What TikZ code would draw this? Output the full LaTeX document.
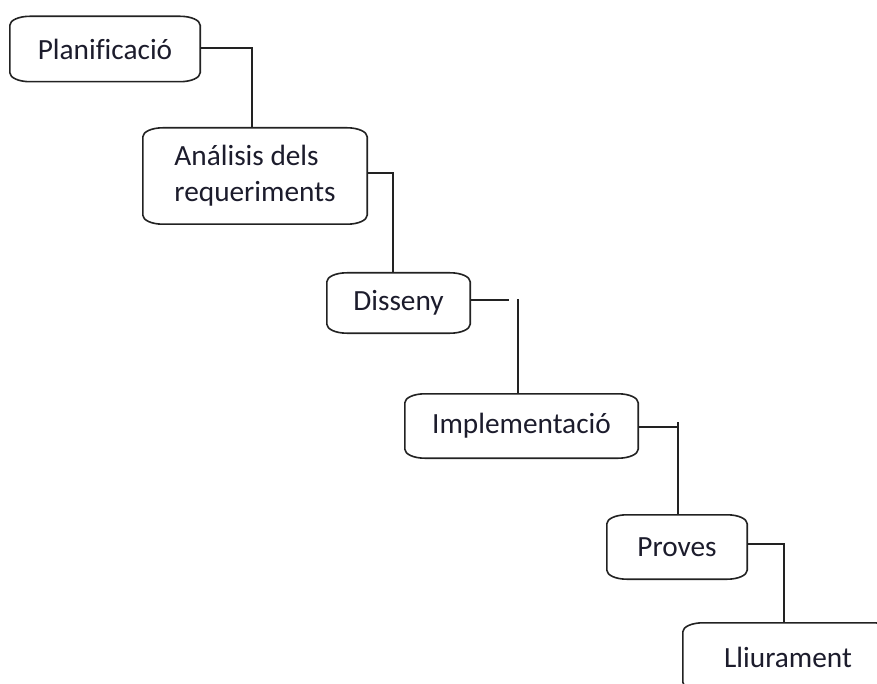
\documentclass[tikz,border=0pt]{standalone}
\usepackage{fontspec}
\setmainfont[Ligatures=NoCommon]{Carlito}
\definecolor{txt}{RGB}{28,28,44}
\definecolor{ln}{RGB}{34,34,34}
\newcommand\ovalbox[1]{%
  \draw[boxline] ([xshift=20pt]#1.north west) -- ([xshift=-20pt]#1.north east)
    arc[start angle=90,end angle=0,x radius=20pt,y radius=9pt]
    -- ([yshift=9pt]#1.south east)
    arc[start angle=0,end angle=-90,x radius=20pt,y radius=9pt]
    -- ([xshift=20pt]#1.south west)
    arc[start angle=270,end angle=180,x radius=20pt,y radius=9pt]
    -- ([yshift=-9pt]#1.north west)
    arc[start angle=180,end angle=90,x radius=20pt,y radius=9pt] -- cycle;}
\begin{document}
\begin{tikzpicture}[x=1pt,y=-1pt,
  stage/.style={inner sep=0pt,text=txt,font=\fontsize{29.3}{35.7}\selectfont},
  boxline/.style={draw=ln,line width=1.6pt,line join=miter},
  conn/.style={draw=ln,line width=1.6pt}]
\fill[white] (0,0) rectangle (877,684);
\useasboundingbox (0,0) rectangle (877,684);
\node[stage,minimum width=190pt,minimum height=65pt] (plan) at (105,49) {Planificació};
\node[stage,minimum width=224pt,minimum height=96pt,align=left] (anal) at (255,176) {Análisis dels\\requeriments};
\node[stage,minimum width=143pt,minimum height=60pt] (diss) at (398.5,303) {Disseny};
\node[stage,minimum width=233pt,minimum height=64pt] (impl) at (521.5,426) {Implementació};
\node[stage,minimum width=140pt,minimum height=64pt] (prov) at (677,547) {Proves};
\node[stage,minimum width=210pt,minimum height=68pt] (lliu) at (788,657) {Lliurament};
\ovalbox{plan}\ovalbox{anal}\ovalbox{diss}\ovalbox{impl}\ovalbox{prov}\ovalbox{lliu}
\coordinate (d1) at (509,300);
\coordinate (d2) at (518,299);
\coordinate (i1) at (678,427);
\coordinate (i2) at (678,422);
\draw[conn] ([yshift=1pt]plan.east) -| ([xshift=-3pt]anal.north);
\draw[conn] ([yshift=3pt]anal.east) -| ([xshift=-5.5pt]diss.north);
\draw[conn] ([yshift=3pt]diss.east) -- (d1);
\draw[conn] (d2) -- (d2 |- impl.north);
\draw[conn] ([yshift=-1pt]impl.east) -- (i1);
\draw[conn] (i2) -- (i2 |- prov.north);
\draw[conn] ([yshift=3pt]prov.east) -| ([xshift=-4pt]lliu.north);
\end{tikzpicture}
\end{document}
